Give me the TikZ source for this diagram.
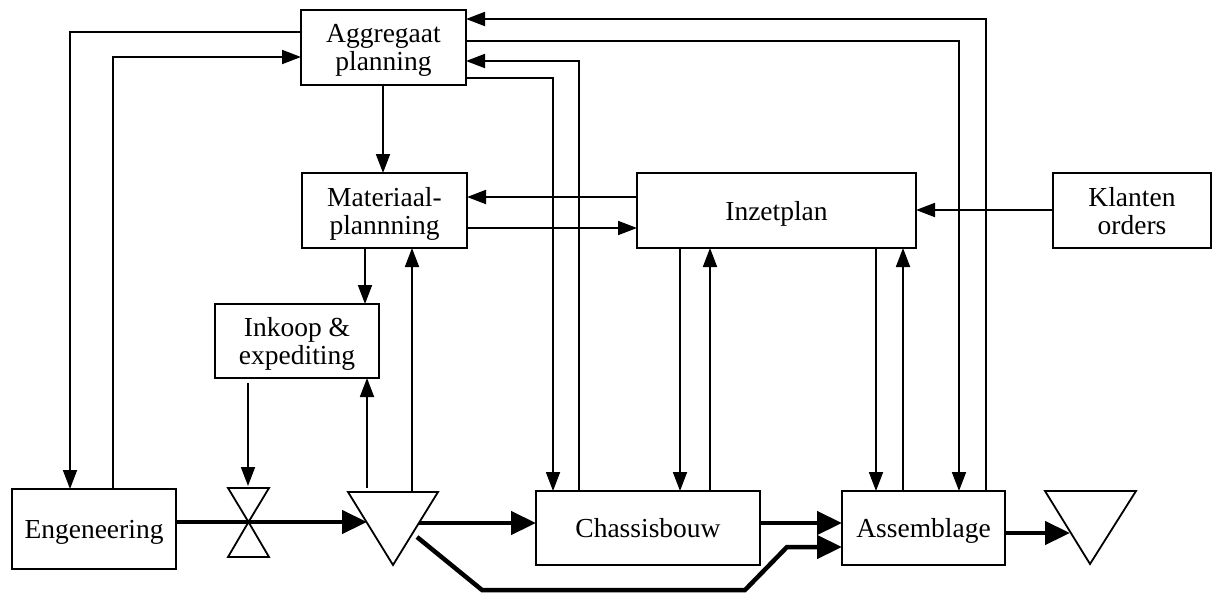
\documentclass[tikz,border=0pt]{standalone}
\usepackage{fontspec}
\setmainfont{Liberation Serif}
\usetikzlibrary{arrows.meta}
\begin{document}
\begin{tikzpicture}[x=1pt,y=-1pt,
  box/.style={draw, line width=1.8pt, inner sep=0pt, outer sep=0pt, align=center,
    text depth=0pt, font=\fontsize{27.5}{28}\selectfont},
  thinarr/.style={line width=1.8pt, -{Triangle[length=19pt,width=14pt]}},
  thickarr/.style={line width=4.5pt, -{Triangle[length=25pt,width=23pt]}},
  shp/.style={draw, line width=1.8pt, line join=miter}]
\useasboundingbox (0,0) rectangle (1213,592);

% boxes
\node[box, minimum width=165pt, minimum height=75pt] (agg) at (383.5,47.5) {Aggregaat\\planning};
\node[box, minimum width=165pt, minimum height=75pt] (mat) at (384.5,210.5) {Materiaal-\\plannning};
\node[box, minimum width=279pt, minimum height=75pt] (inz) at (776.5,210.5) {Inzetplan};
\node[box, minimum width=158pt, minimum height=75pt] (kla) at (1132,210.5) {Klanten\\orders};
\node[box, minimum width=164pt, minimum height=74pt] (ink) at (297,341) {Inkoop \&\\expediting};
\node[box, minimum width=164pt, minimum height=80pt] (eng) at (94,529) {Engeneering};
\node[box, minimum width=224pt, minimum height=74pt] (cha) at (648,528) {Chassisbouw};
\node[box, minimum width=163pt, minimum height=74pt] (ass) at (923.5,528) {Assemblage};

% stock triangles and valve
\coordinate (t1a) at (348,492); \coordinate (t1b) at (438,492); \coordinate (t1c) at (393,565);
\draw[shp] (t1a) -- (t1b) -- (t1c) -- cycle;
\coordinate (t2a) at (1045,491); \coordinate (t2b) at (1136,491); \coordinate (t2c) at (1090,564);
\draw[shp] (t2a) -- (t2b) -- (t2c) -- cycle;
\coordinate (vc) at (248.5,522);
\coordinate (v1) at (228,488); \coordinate (v2) at (269,488);
\coordinate (v3) at (228,557); \coordinate (v4) at (269,557);
\draw[shp] (v1) -- (v2) -- (vc) -- cycle;
\draw[shp] (v3) -- (v4) -- (vc) -- cycle;

% thin connectors
\draw[thinarr] (agg.west |- 0,32) -| (eng.north -| 70,0);
\draw[thinarr] (eng.north -| 113,0) |- (agg.west |- 0,57);
\draw[thinarr] (ass.north -| 986,0) |- (agg.east |- 0,19);
\draw[thinarr] (agg.east |- 0,41) -| (ass.north -| 959,0);
\draw[thinarr] (cha.north -| 579,0) |- (agg.east |- 0,61);
\draw[thinarr] (agg.east |- 0,78) -| (cha.north -| 553,0);
\draw[thinarr] (agg.south -| 383,0) -- (mat.north -| 383,0);
\draw[thinarr] (inz.west |- 0,197) -- (mat.east |- 0,197);
\draw[thinarr] (mat.east |- 0,228) -- (inz.west |- 0,228);
\draw[thinarr] (kla.west |- 0,210) -- (inz.east |- 0,210);
\draw[thinarr] (inz.south -| 680,0) -- (cha.north -| 680,0);
\draw[thinarr] (cha.north -| 710,0) -- (inz.south -| 710,0);
\draw[thinarr] (inz.south -| 876,0) -- (ass.north -| 876,0);
\draw[thinarr] (ass.north -| 903,0) -- (inz.south -| 903,0);
\draw[thinarr] (mat.south -| 365,0) -- (ink.north -| 365,0);
\draw[thinarr] (t1a -| 412,0) -- (mat.south -| 412,0);
\draw[thinarr] (367,488) -- (ink.south -| 367,0);
\coordinate (inkout) at (248,383);
\coordinate (vin) at (248,486);
\draw[thinarr] (inkout) -- (vin);

% thick material flow
\coordinate (t1in) at (367,522);
\draw[thickarr] (eng.east |- 0,522) -- (t1in);
\coordinate (t1out) at (419,523);
\draw[thickarr] (t1out) -- (cha.west |- 0,523);
\coordinate (d1) at (417,537);
\coordinate (d2) at (482,590);
\coordinate (d3) at (745,590);
\coordinate (d4) at (787,547);
\draw[thickarr, line join=miter] (d1) -- (d2) -- (d3) -- (d4) -- (ass.west |- 0,547);
\draw[thickarr] (cha.east |- 0,523) -- (ass.west |- 0,523);
\coordinate (t2in) at (1070,533);
\draw[thickarr] (ass.east |- 0,533) -- (t2in);
\end{tikzpicture}
\end{document}
